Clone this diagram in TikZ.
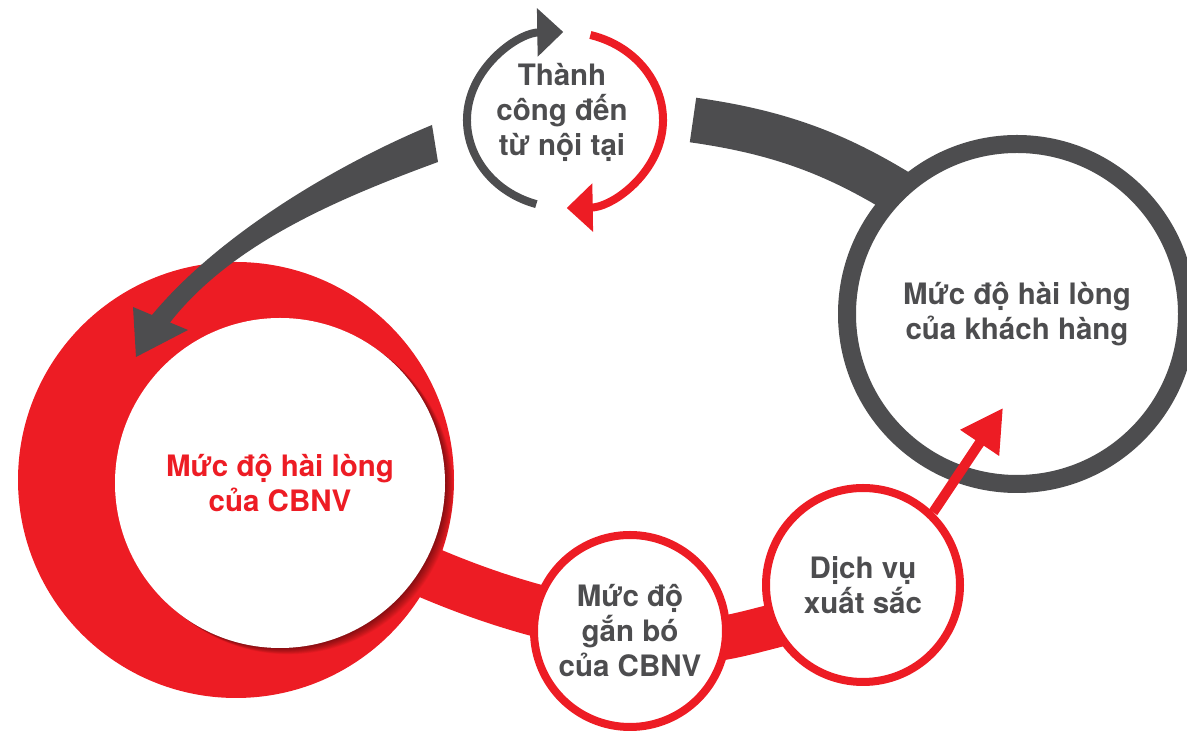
\documentclass[tikz,border=0pt]{standalone}
\usepackage{fontspec}
\setmainfont{TeX Gyre Heros}
\usetikzlibrary{arrows.meta, backgrounds, calc}

\definecolor{vnred}{HTML}{ED1C24}
\definecolor{vngrey}{HTML}{4D4D4F}

\begin{document}
\begin{tikzpicture}[
  x=1pt, y=1pt,
  font=\bfseries\fontsize{29.5}{35}\selectfont,
  ring/.style={
    circle, draw=vnred, line width=8pt, fill=white,
    inner sep=0pt, align=center, text=vngrey
  },
  band/.style={line width=#1, line cap=butt},
  redarrow/.style={draw=vnred, line width=10pt, -{Triangle[length=42pt, width=44pt]}},
  cyclearrow/.style={line width=8pt, -{Triangle[length=26pt, width=47pt]}},
]
\useasboundingbox (0,0) rectangle (1187,733);

% Employee satisfaction: red disc, soft shadow, white face
\coordinate (cbnvc) at (280,250);
\node[circle, fill=vnred, minimum size=436pt, inner sep=0pt] (cbnvring) at (236,253) {};
\foreach \i in {1,...,14}
  \fill[black, opacity=0.035] ($(cbnvc)+(0.6*\i,-0.45*\i)$) circle[radius=165pt];
\node[circle, fill=white, minimum size=330pt, inner sep=0pt, align=center, text=vnred]
  (cbnv) at (cbnvc) {Mức độ hài lòng\\của CBNV};

% Small circles along the bottom, customer circle on the right
\node[ring, minimum size=192pt] (ganbo) at (630,102) {Mức độ\\gắn bó\\của CBNV};
\node[ring, minimum size=194pt] (dichvu) at (863,148) {Dịch vụ\\xuất sắc};
\node[ring, draw=vngrey, line width=18pt, minimum size=340pt] (khach) at (1017,419)
  {Mức độ hài lòng\\của khách hàng};

% Cycle icon at the top
\coordinate (cyc) at (565,613);
\node[text=vngrey, align=center] (thanhcong) at (562,621) {Thành\\công đến\\từ nội tại};
\draw[cyclearrow, vngrey] ($(cyc)+(253:98pt and 88pt)$)
  arc[start angle=253, end angle=91, x radius=98pt, y radius=88pt];
\draw[cyclearrow, vnred] ($(cyc)+(75:98pt and 88pt)$)
  arc[start angle=75, end angle=-89, x radius=98pt, y radius=88pt];

% Thick bands behind the circles
\coordinate (gband) at (693,613);
\begin{scope}[on background layer]
  \draw[vnred, band=52pt] ($(cbnv.center)+(50,-44)$) to[out=-26, in=170] (ganbo.center);
  \draw[vnred, band=44pt] (ganbo.center) to[out=-20, in=190] ($(dichvu.center)+(-40,-30)$);
  \draw[vngrey, band=45pt] (gband) to[out=-8, in=145] ($(khach.center)+(-57,81)$);
\end{scope}

% Tapered grey arrow into the red disc
\coordinate (gtip) at (136,376);
\fill[vngrey] (432,608) .. controls (340,570) and (220,500) .. (152,418)
  -- (133,426) -- (gtip) -- (188,403) -- (170,410.5)
  .. controls (232,490) and (340,535) .. (438,571) -- cycle;

% Red arrow from service to customer
\coordinate (khtip) at (1003,325);
\draw[redarrow] (dichvu.46) -- (khtip);

\end{tikzpicture}
\end{document}
